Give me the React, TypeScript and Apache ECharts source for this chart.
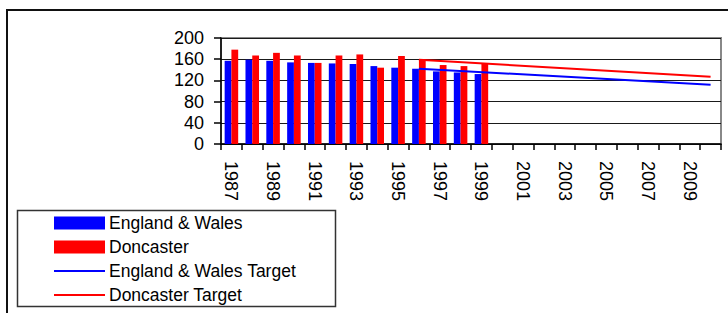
import React, { useEffect, useRef } from "react";
import * as echarts from "echarts";

const years = [
  "1987", "1988", "1989", "1990", "1991", "1992", "1993", "1994", "1995", "1996", "1997", "1998",
  "1999", "2000", "2001", "2002", "2003", "2004", "2005", "2006", "2007", "2008", "2009", "2010",
];
const englandWales = [157, 159, 157, 154, 153, 152, 151, 147, 144, 142, 137, 135, 132, null, null, null, null, null, null, null, null, null, null, null];
const doncaster = [178, 167, 172, 167, 153, 167, 169, 144, 166, 159, 149, 147, 151, null, null, null, null, null, null, null, null, null, null, null];
const englandWalesTarget = [null, null, null, null, null, null, null, null, null, 142, null, null, null, null, null, null, null, null, null, null, null, null, null, 112];
const doncasterTarget = [null, null, null, null, null, null, null, null, null, 159, null, null, null, null, null, null, null, null, null, null, null, null, null, 127];
const yTicks = { min: 0, max: 200, interval: 40 };

const FONT = "'Liberation Sans', Arial, sans-serif";
const LINE_ICON = "path://M0,0H51V2H0Z";

export default function App() {
  const ref = useRef<HTMLDivElement>(null);
  useEffect(() => {
    if (!ref.current) return;
    const chart = echarts.init(ref.current, null, { renderer: "svg" });
    chart.setOption({
      animation: false,
      backgroundColor: "#fff",
      textStyle: { fontFamily: FONT },
      graphic: [
        {
          type: "rect",
          shape: { x: 7, y: 10, width: 800, height: 400 },
          style: { fill: "none", stroke: "#111", lineWidth: 2 },
          silent: true,
        },
        {
          type: "rect",
          shape: { x: 17.5, y: 210.5, width: 318, height: 96 },
          style: { fill: "#fff", stroke: "#333", lineWidth: 1.5 },
          silent: true,
          z: 0,
        },
      ],
      grid: {
        left: 221,
        right: 7,
        top: 38,
        bottom: 169,
        show: true,
        borderColor: "#888",
        borderWidth: 2,
        containLabel: false,
      },
      legend: {
        orient: "vertical",
        left: 17,
        top: 210,
        padding: [3, 20, 0, 37],
        itemWidth: 51,
        itemHeight: 13,
        itemGap: 4,
        z: 5,
        symbolKeepAspect: true,
        textStyle: { fontFamily: FONT, fontSize: 17.5, color: "#000", lineHeight: 20, padding: [0, 0, 0, -1] },
        data: [
          { name: "England & Wales", icon: "rect" },
          { name: "Doncaster", icon: "rect" },
          { name: "England & Wales Target", icon: LINE_ICON },
          { name: "Doncaster Target", icon: LINE_ICON },
        ],
      },
      xAxis: {
        type: "category",
        data: years,
        axisLine: { lineStyle: { color: "#000", width: 1.5 } },
        axisTick: { show: true, interval: 0, length: 6, lineStyle: { color: "#000", width: 1.5 } },
        axisLabel: {
          interval: 1,
          rotate: -90,
          margin: 17,
          fontSize: 18,
          fontFamily: FONT,
          color: "#000",
        },
        splitLine: { show: false },
      },
      yAxis: {
        type: "value",
        min: yTicks.min,
        max: yTicks.max,
        interval: yTicks.interval,
        axisLine: { show: true, lineStyle: { color: "#000", width: 1.5 } },
        axisTick: { show: true, length: 7, lineStyle: { color: "#000", width: 1.5 } },
        axisLabel: { fontSize: 18, margin: 17, fontFamily: FONT, color: "#000" },
        splitLine: { show: true, lineStyle: { color: "#1a1a1a", width: 1 } },
      },
      series: [
        {
          name: "England & Wales",
          type: "bar",
          data: englandWales,
          itemStyle: { color: "#0000ff" },
          barGap: "0%",
          barCategoryGap: "35%",
        },
        {
          name: "Doncaster",
          type: "bar",
          data: doncaster,
          itemStyle: { color: "#ff0000" },
          barGap: "0%",
          barCategoryGap: "35%",
        },
        {
          name: "England & Wales Target",
          type: "line",
          data: englandWalesTarget,
          connectNulls: true,
          symbol: "none",
          showSymbol: false,
          lineStyle: { color: "#0000ff", width: 2 },
          itemStyle: { color: "#0000ff" },
          z: 3,
        },
        {
          name: "Doncaster Target",
          type: "line",
          data: doncasterTarget,
          connectNulls: true,
          symbol: "none",
          showSymbol: false,
          lineStyle: { color: "#ff0000", width: 2 },
          itemStyle: { color: "#ff0000" },
          z: 3,
        },
      ],
    });
    return () => chart.dispose();
  }, []);
  return (
    <div
      ref={ref}
      style={{ position: "fixed", left: 0, top: 0, width: 728, height: 313 }}
    />
  );
}
